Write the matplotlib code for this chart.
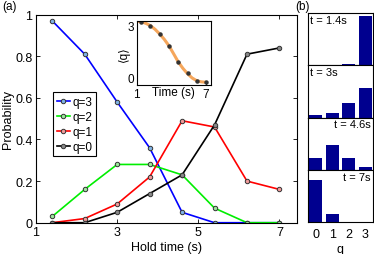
import matplotlib
matplotlib.use('Agg')
import matplotlib.pyplot as plt

plt.rcParams['font.family'] = ['Liberation Sans', 'DejaVu Sans']
plt.rcParams['font.size'] = 9

# hold times and level populations
t = [1.4, 2.2, 3.0, 3.8, 4.6, 5.4, 6.2, 7.0]
p3 = [0.97, 0.81, 0.58, 0.36, 0.05, 0.0, 0.0, 0.0]
p2 = [0.03, 0.16, 0.28, 0.28, 0.23, 0.07, 0.0, 0.0]
p1 = [0.0, 0.02, 0.09, 0.22, 0.49, 0.46, 0.20, 0.16]
p0 = [0.0, 0.0, 0.05, 0.14, 0.23, 0.47, 0.81, 0.84]

# inset: mean level and fitted curve
q_mean = [2.97, 2.77, 2.39, 1.86, 1.10, 0.60, 0.20, 0.16]
fit_t = [1.0, 1.4, 1.8, 2.2, 2.6, 3.0, 3.4, 3.8, 4.2, 4.6, 5.0, 5.4, 5.8, 6.2, 6.6, 7.0]
fit_q = [3.0, 2.97, 2.9, 2.79, 2.62, 2.40, 2.15, 1.85, 1.48, 1.10, 0.80, 0.55, 0.35, 0.22, 0.17, 0.15]

# histograms in panel (b)
hist_q = [0, 1, 2, 3]
hist_labels = ['t = 1.4s', 't = 3s', 't = 4.6s', 't = 7s']
hist_vals = [
    [0.0, 0.0, 0.03, 0.97],
    [0.05, 0.09, 0.28, 0.58],
    [0.23, 0.49, 0.23, 0.05],
    [0.84, 0.16, 0.0, 0.0],
]

fig = plt.figure(figsize=(3.74, 2.55), dpi=100)

ax = fig.add_axes([0.0963, 0.1227, 0.6965, 0.816])
series = [(p3, 'q=3', '#0000ff', '#7fb2e5'),
          (p2, 'q=2', '#00ee00', '#9be89b'),
          (p1, 'q=1', '#ff0000', '#f19a9a'),
          (p0, 'q=0', '#000000', '#888888')]
for vals, lab, col, fc in series:
    ax.plot(t, vals, '-o', color=col, lw=1.2, ms=3.2, mfc=fc, mec='#333333',
            mew=0.7, label=lab)
ax.set_xlim(1, 7.42)
ax.set_ylim(0, 1)
ax.set_xticks([1, 3, 5, 7])
ax.set_yticks([0, 0.2, 0.4, 0.6, 0.8, 1])
ax.set_yticklabels(['0', '0.2', '0.4', '0.6', '0.8', '1'])
ax.tick_params(direction='in', top=True, right=True, length=3, width=0.6, pad=2.5)
ax.set_xlabel('Hold time (s)', labelpad=2)
ax.set_ylabel('Probability', labelpad=1)
for s in ax.spines.values():
    s.set_linewidth(0.8)
leg = ax.legend(loc='upper left', bbox_to_anchor=(0.066, 0.627), borderaxespad=0,
                handlelength=1.1, handletextpad=0.2, labelspacing=0.25,
                borderpad=0.3, fancybox=False, edgecolor='black', framealpha=1,
                fontsize=8.5)
leg.get_frame().set_linewidth(0.8)

ins = fig.add_axes([0.365, 0.6608, 0.199, 0.254])
ins.plot(fit_t, fit_q, color='#f5a65b', lw=2.2, solid_capstyle='round')
ins.plot(t, q_mean, 'o', color='#333333', ms=2.2, mfc='#333333')
ins.set_xlim(1, 7.42)
ins.set_ylim(0, 3.02)
ins.set_xticks([1, 7])
ins.set_yticks([0, 3])
ins.tick_params(direction='in', length=2, width=0.6, pad=2, labelsize=8.5)
ylabs = ins.get_yticklabels()
ylabs[0].set_va('bottom')
ylabs[1].set_va('top')
ins.set_xlabel('Time (s)', labelpad=-10.5, fontsize=8.5)
ins.set_ylabel('⟨q⟩', labelpad=-2, fontsize=8.5)
for s in ins.spines.values():
    s.set_linewidth(0.8)

bot = 0.1243
h = 0.2052
for i, (vals, lab) in enumerate(zip(hist_vals, hist_labels)):
    b = fig.add_axes([0.8227, bot + (3 - i) * h, 0.1754, h])
    b.bar(hist_q, vals, width=0.8, color='#00008f')
    b.set_xlim(-0.5, 3.5)
    b.set_ylim(0, 1.03)
    b.set_yticks([])
    if i < 2:
        b.text(0.04, 0.97, lab, transform=b.transAxes, ha='left', va='top', fontsize=8)
    else:
        b.text(0.96, 0.97, lab, transform=b.transAxes, ha='right', va='top', fontsize=8)
    if i == 3:
        b.set_xticks(hist_q)
        b.tick_params(axis='x', direction='in', length=0, pad=4)
        b.set_xlabel('q', labelpad=2)
    else:
        b.set_xticks([])
    for s in b.spines.values():
        s.set_linewidth(0.8)

fig.text(0.005, 0.995, '(a)', ha='left', va='top', fontsize=8.5)
fig.text(0.79, 0.995, '(b)', ha='left', va='top', fontsize=8.5)

fig.savefig('out.png', dpi=100)
